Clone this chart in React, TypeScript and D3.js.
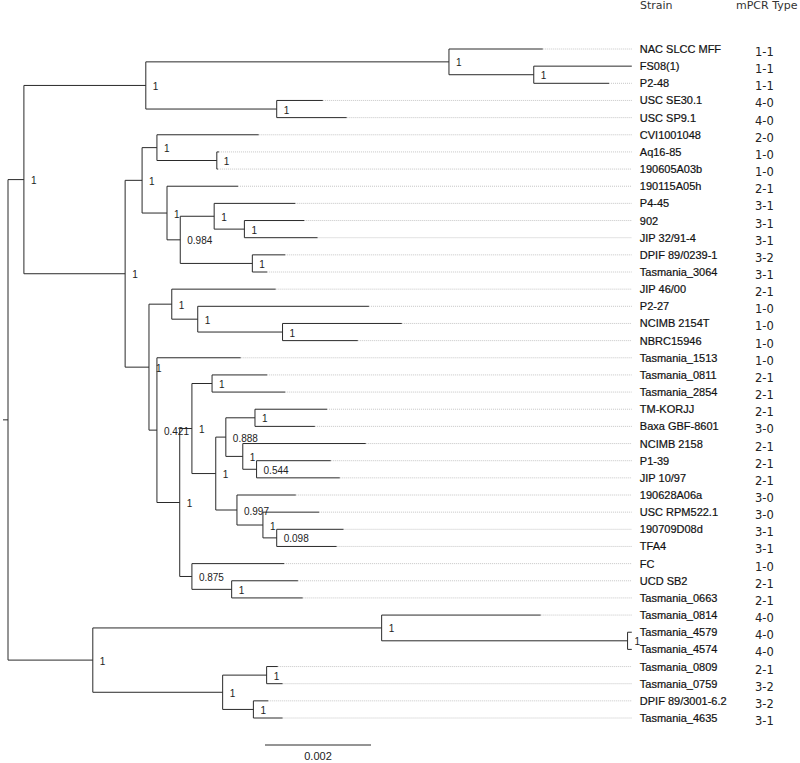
import React from "react";
import * as d3 from "d3";

// Leaf names, in tree order
const strains = [
  "NAC SLCC MFF", "FS08(1)", "P2-48", "USC SE30.1", "USC SP9.1",
  "CVI1001048", "Aq16-85", "190605A03b", "190115A05h", "P4-45",
  "902", "JIP 32/91-4", "DPIF 89/0239-1", "Tasmania_3064", "JIP 46/00",
  "P2-27", "NCIMB 2154T", "NBRC15946", "Tasmania_1513", "Tasmania_0811",
  "Tasmania_2854", "TM-KORJJ", "Baxa GBF-8601", "NCIMB 2158", "P1-39",
  "JIP 10/97", "190628A06a", "USC RPM522.1", "190709D08d", "TFA4",
  "FC", "UCD SB2", "Tasmania_0663", "Tasmania_0814", "Tasmania_4579",
  "Tasmania_4574", "Tasmania_0809", "Tasmania_0759", "DPIF 89/3001-6.2", "Tasmania_4635",
];

// mPCR type of each strain (same order)
const mpcrTypes = [
  "1-1", "1-1", "1-1", "4-0", "4-0",
  "2-0", "1-0", "1-0", "2-1", "3-1",
  "3-1", "3-1", "3-2", "3-1", "2-1",
  "1-0", "1-0", "1-0", "1-0", "2-1",
  "2-1", "2-1", "3-0", "2-1", "2-1",
  "2-1", "3-0", "3-0", "3-1", "3-1",
  "1-0", "2-1", "2-1", "4-0", "4-0",
  "4-0", "2-1", "3-2", "3-2", "3-1",
];

// Tree topology: leaves are indices into `strains`, internal labels are support values,
// numbers after ':' are branch lengths (substitutions/site)
const treeNewick =
  "(" +
    "(" +
      "(" +
        "(0:0.00177,(1:0.00185,2:0.00142)1:0.00160)1:0.00572," +
        "(3:0.00087,4:0.00132)1:0.00247" +
      ")1:0.00230," +
      "(" +
        "(" +
          "(5:0.00192,(6:0.00004,7:0.00002)1:0.00113)1:0.00028," +
          "(8:0.00134,((9:0.00153,(10:0.00113,11:0.00138)1:0.00057)1:0.00064,(12:0.00062,13:0.00028)1:0.00136)0.984:0.00025)1:0.00047" +
        ")1:0.00032," +
        "(" +
          "(14:0.00196,(15:0.00323,(16:0.00225,17:0.00142)1:0.00160)1:0.00049)1:0.00043," +
          "(18:0.00158," +
            "(" +
              "(" +
                "(19:0.00104,20:0.00138)1:0.00038," +
                "(" +
                  "((21:0.00136,22:0.00113)1:0.00055,(23:0.00232,(24:0.00140,25:0.00157)0.544:0.00026)1:0.00032)0.888:0.00019," +
                  "(26:0.00111,(27:0.00106,(28:0.00126,29:0.00113)0.098:0.00026)1:0.00049)0.997:0.00040" +
                ")1:0.00045" +
              ")1:0.00023," +
              "(30:0.00174,(31:0.00125,32:0.00134)1:0.00075)0.875:0.00023" +
            ")1:0.00043" +
          ")0.421:0.00015" +
        ")1:0.00045" +
      ")1:0.00191" +
    ")1:0.00030," +
    "(" +
      "(33:0.00300,(34:0.00008,35:0.00008)1:0.00464)1:0.00545," +
      "((36:0.00021,37:0.00030)1:0.00083,(38:0.00028,39:0.00055)1:0.00058)1:0.00245" +
    ")1:0.00160" +
  ");";

const scaleBarValue = 0.002;
const headerStrain = "Strain";
const headerType = "mPCR Type";

type RawNode = { name: string; length?: number; children?: RawNode[] };

function parseNewick(s: string): RawNode {
  let i = 0;
  function node(): RawNode {
    const n: RawNode = { name: "" };
    if (s[i] === "(") {
      i++;
      n.children = [node()];
      while (s[i] === ",") {
        i++;
        n.children.push(node());
      }
      i++; // ')'
    }
    let name = "";
    while (i < s.length && !",):;".includes(s[i])) name += s[i++];
    n.name = name;
    if (s[i] === ":") {
      i++;
      let l = "";
      while (i < s.length && !",);".includes(s[i])) l += s[i++];
      n.length = +l;
    }
    return n;
  }
  return node();
}

const W = 800;
const H = 763;
const TOP = 49;
const BOTTOM = 718;
const ROOT_X = 8;
const PX_PER_UNIT = 53000;

export default function App() {
  const root = d3.hierarchy<RawNode>(parseNewick(treeNewick));
  const dist = new Map<any, number>();
  root.each((n) => {
    dist.set(n, (n.parent ? dist.get(n.parent)! : 0) + (n.parent ? n.data.length || 0 : 0));
  });
  d3.cluster<RawNode>().size([1000, 1]).separation(() => 1)(root);

  const leaves = root.leaves();
  const yScale = d3
    .scaleLinear()
    .domain([d3.min(leaves, (l) => l.x!)!, d3.max(leaves, (l) => l.x!)!])
    .range([TOP, BOTTOM]);
  const y = (n: any) => yScale(n.x);

  const maxDist = d3.max(leaves, (l) => dist.get(l)!)!;
  const x = d3.scaleLinear().domain([0, maxDist]).range([ROOT_X, ROOT_X + maxDist * PX_PER_UNIT]);
  const alignX = x(maxDist);
  const labelX = alignX + 8;
  const typeX = 755;

  const nodes = root.descendants();
  const lineColor = "#2a2a2a";
  const sans = "'Liberation Sans', Arial, Helvetica, sans-serif";
  const sans2 = "'DejaVu Sans', Verdana, sans-serif";

  return (
    <svg
      width={W}
      height={H}
      viewBox={`0 0 ${W} ${H}`}
      style={{ position: "absolute", left: 0, top: 0, background: "#fff" }}
    >
      <rect x={0} y={0} width={W} height={H} fill="#fff" />
      {/* headers */}
      <text x={640} y={9} fontFamily={sans2} fontSize={11} fill="#333">{headerStrain}</text>
      <text x={736} y={9} fontFamily={sans2} fontSize={11} fill="#333">{headerType}</text>

      {/* root stub */}
      <line x1={x(0) - 5} x2={x(0)} y1={y(root)} y2={y(root)} stroke={lineColor} strokeWidth={1} />

      {/* dotted leaf extensions */}
      {leaves.map((l, i) => {
        const xe = x(dist.get(l)!);
        return xe < alignX - 0.5 ? (
          <line key={"dot" + i} x1={xe} x2={alignX} y1={y(l)} y2={y(l)} stroke="#b8b8b8" strokeWidth={0.8} strokeDasharray="1,1" />
        ) : null;
      })}

      {/* horizontal branches */}
      {nodes.filter((n) => n.parent).map((n, i) => (
        <line key={"h" + i} x1={x(dist.get(n.parent)!)} x2={x(dist.get(n)!)} y1={y(n)} y2={y(n)} stroke={lineColor} strokeWidth={1} />
      ))}

      {/* vertical connectors */}
      {nodes.filter((n) => n.children).map((n, i) => {
        const c = n.children!;
        return (
          <line key={"v" + i} x1={x(dist.get(n)!)} x2={x(dist.get(n)!)} y1={y(c[0])} y2={y(c[c.length - 1])} stroke={lineColor} strokeWidth={1} />
        );
      })}

      {/* support values */}
      {nodes.filter((n) => n.children && n.data.name !== "").map((n, i) => (
        <text key={"s" + i} x={x(dist.get(n)!) + 7} y={y(n) + 4.5} fontFamily={sans} fontSize={10} fill="#222">
          {n.data.name}
        </text>
      ))}

      {/* strain labels and types */}
      {leaves.map((l, i) => {
        const idx = +l.data.name;
        return (
          <g key={"lab" + i}>
            <text x={labelX} y={y(l) + 4} fontFamily={sans} fontSize={11} fill="#111" stroke="#111" strokeWidth={0.2}>
              {strains[idx]}
            </text>
            <text x={typeX} y={y(l) + 7} fontFamily={sans2} fontSize={11.5} fill="#222">{mpcrTypes[idx]}</text>
          </g>
        );
      })}

      {/* scale bar */}
      <line x1={265} x2={265 + x(scaleBarValue) - x(0)} y1={745} y2={745} stroke={lineColor} strokeWidth={1} />
      <text x={265 + (x(scaleBarValue) - x(0)) / 2} y={760} textAnchor="middle" fontFamily={sans} fontSize={11} fill="#222">
        {scaleBarValue}
      </text>
    </svg>
  );
}
